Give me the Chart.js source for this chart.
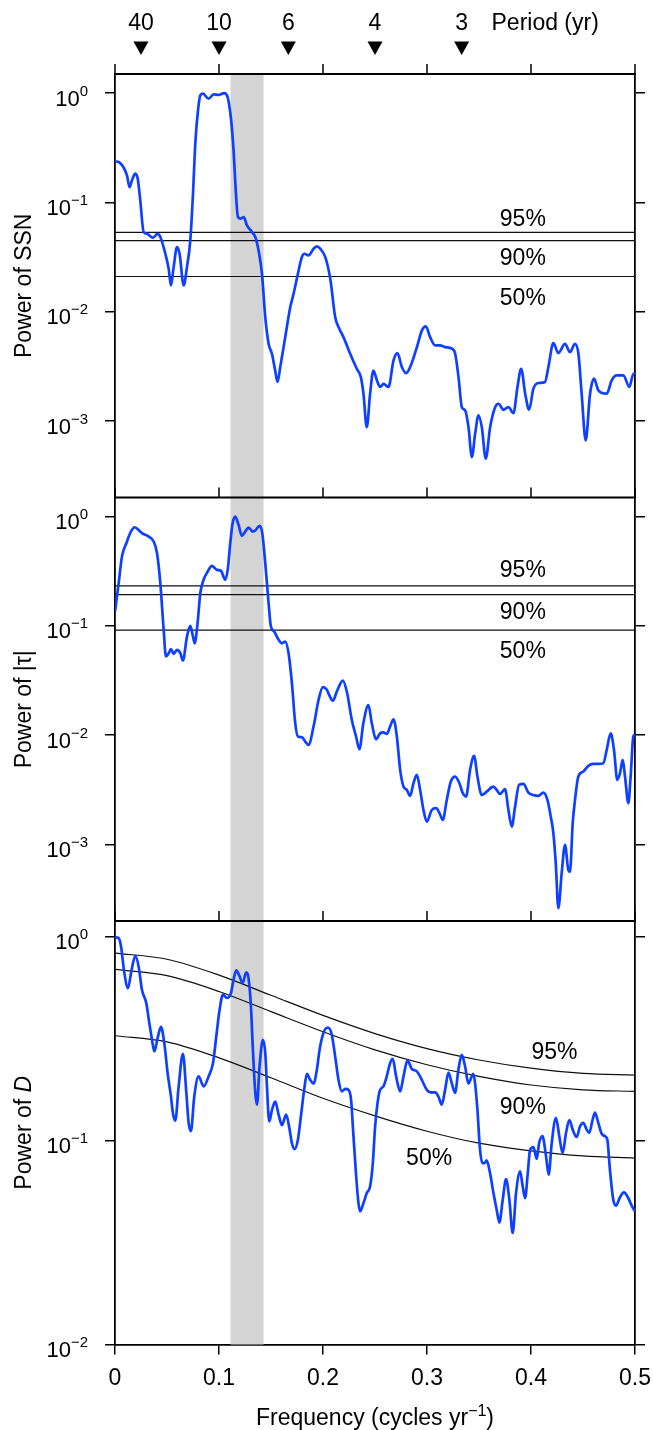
<!DOCTYPE html>
<html>
<head>
<meta charset="utf-8">
<title>Power spectra of SSN, |τ| and D</title>
<script src="https://cdn.jsdelivr.net/npm/chart.js@4.4.1/dist/chart.umd.min.js"></script>
<style>
  html, body { margin: 0; padding: 0; background: #fff; }
  #wrap { position: relative; width: 653px; height: 1430px; }
  canvas { display: block; }
</style>
</head>
<body>
<div id="wrap"><canvas id="spec" width="653" height="1430"></canvas></div>
<script>
// ---- data ---------------------------------------------------------------
// Sunspot number power spectrum
const ssnFreq = [0,0.0035,0.0077,0.0115,0.014,0.0163,0.0195,0.0218,0.0243,0.0275,0.0307,0.0365,0.041,0.0436,0.0484,0.0516,0.0538,0.0564,0.0596,0.0621,0.066,0.0692,0.0724,0.075,0.0772,0.0798,0.082,0.0846,0.09,0.0948,0.0996,0.105,0.1083,0.1115,0.114,0.1163,0.1182,0.121,0.1237,0.1269,0.1317,0.1349,0.138,0.1413,0.1445,0.1477,0.1509,0.154,0.1563,0.1589,0.1637,0.1685,0.1717,0.1759,0.1797,0.1823,0.1861,0.1909,0.1941,0.1973,0.2022,0.207,0.2117,0.2149,0.2197,0.2261,0.2325,0.2364,0.2389,0.2421,0.2453,0.2485,0.2518,0.255,0.2582,0.263,0.2678,0.2716,0.2758,0.28,0.2838,0.2903,0.2951,0.2989,0.303,0.3078,0.3126,0.3174,0.3239,0.3271,0.3303,0.3335,0.3367,0.3399,0.3431,0.3463,0.3495,0.3527,0.3565,0.3607,0.3655,0.3687,0.3735,0.3783,0.3831,0.387,0.3905,0.3944,0.3982,0.4023,0.4071,0.4135,0.4167,0.4215,0.4263,0.4327,0.4375,0.4423,0.4456,0.4487,0.4526,0.4568,0.4606,0.4648,0.4728,0.4776,0.4824,0.4888,0.4946,0.4985,0.5];
const ssnPower = [0.237,0.234,0.213,0.177,0.138,0.159,0.183,0.165,0.104,0.0536,0.0516,0.0475,0.0516,0.0482,0.0339,0.0247,0.0174,0.0256,0.039,0.0339,0.0174,0.0256,0.0449,0.12,0.344,0.693,0.953,0.986,0.887,0.973,0.959,1.0,0.918,0.582,0.299,0.12,0.0735,0.071,0.0735,0.0617,0.0536,0.0482,0.0364,0.0223,0.00893,0.00509,0.00413,0.0029,0.00228,0.00312,0.00586,0.011,0.0146,0.0223,0.0316,0.0339,0.0327,0.0377,0.0396,0.0377,0.0316,0.02,0.00893,0.00724,0.00586,0.00413,0.00301,0.00252,0.00178,0.00088,0.00178,0.0029,0.00236,0.00205,0.00219,0.00205,0.00359,0.00419,0.00312,0.00275,0.00312,0.00475,0.00675,0.00735,0.00586,0.00492,0.00492,0.00475,0.00459,0.00413,0.00252,0.00134,0.00125,0.00088,0.000469,0.000766,0.00113,0.00088,0.000453,0.00088,0.00134,0.00144,0.00127,0.00134,0.00118,0.00205,0.00301,0.00178,0.00127,0.00198,0.00223,0.00228,0.00312,0.00516,0.00419,0.00509,0.00428,0.00509,0.00413,0.00178,0.000665,0.00178,0.00244,0.00191,0.00178,0.00236,0.00262,0.00262,0.00205,0.00271,0.00271];

// |tau| power spectrum
const tauFreq = [0,0.0035,0.0067,0.0109,0.0154,0.0189,0.0218,0.0259,0.0324,0.0372,0.0404,0.0436,0.0468,0.049,0.0516,0.0538,0.0564,0.0596,0.0628,0.0653,0.0692,0.0724,0.075,0.0766,0.0794,0.082,0.0852,0.0891,0.0932,0.098,0.1019,0.106,0.1086,0.1108,0.1131,0.1156,0.1188,0.122,0.1252,0.1285,0.1323,0.1349,0.139,0.1416,0.1445,0.1477,0.1499,0.1531,0.1573,0.1605,0.1637,0.1669,0.1701,0.1733,0.1759,0.1797,0.1829,0.1861,0.1909,0.1957,0.1999,0.2037,0.2052,0.2095,0.2133,0.219,0.2229,0.2277,0.2318,0.235,0.2388,0.2437,0.2469,0.251,0.2549,0.258,0.2614,0.2645,0.2678,0.271,0.2742,0.2774,0.2806,0.2838,0.287,0.2902,0.2934,0.2966,0.2998,0.3046,0.3088,0.312,0.3152,0.319,0.3229,0.327,0.3312,0.3344,0.3376,0.3414,0.3453,0.3485,0.3526,0.3574,0.3638,0.367,0.3703,0.375,0.3783,0.3815,0.3847,0.3885,0.3927,0.3975,0.4023,0.4071,0.4119,0.4158,0.419,0.4215,0.4238,0.4263,0.4295,0.4327,0.4359,0.4375,0.4401,0.4423,0.4455,0.4503,0.4551,0.4599,0.4647,0.4696,0.4728,0.4766,0.4798,0.483,0.4856,0.4882,0.4904,0.4936,0.4958,0.4984,0.5];
const tauPower = [0.135,0.245,0.431,0.57,0.73,0.798,0.766,0.705,0.656,0.59,0.462,0.245,0.0918,0.0525,0.0562,0.0612,0.0555,0.0603,0.0562,0.0482,0.0798,0.1,0.0798,0.0693,0.106,0.199,0.264,0.314,0.354,0.325,0.318,0.264,0.337,0.57,0.869,1.0,0.839,0.665,0.729,0.792,0.729,0.745,0.822,0.705,0.374,0.161,0.0986,0.0887,0.0745,0.0693,0.0719,0.0562,0.0299,0.0129,0.00973,0.0096,0.00875,0.00817,0.012,0.021,0.0275,0.026,0.0242,0.0207,0.0251,0.0316,0.0251,0.0138,0.00973,0.00745,0.0129,0.0189,0.0129,0.00918,0.0104,0.0106,0.0103,0.012,0.014,0.00973,0.00482,0.00339,0.00316,0.00279,0.00364,0.00434,0.00316,0.00207,0.00162,0.00207,0.00215,0.00194,0.00168,0.00256,0.00377,0.00419,0.00364,0.00295,0.00275,0.00482,0.00647,0.00419,0.00284,0.00305,0.00339,0.00316,0.0029,0.00321,0.00207,0.00146,0.00223,0.00352,0.00359,0.00299,0.00284,0.00279,0.00299,0.00256,0.0018,0.00127,0.000675,0.000262,0.000547,0.000993,0.000586,0.000566,0.00157,0.00256,0.00419,0.00466,0.00525,0.00547,0.00547,0.00555,0.00734,0.0104,0.00734,0.00391,0.00449,0.00594,0.00419,0.00239,0.00419,0.00973,0.0101];

// D power spectrum
const dFreq = [0,0.0035,0.0058,0.009,0.0125,0.0157,0.0195,0.0227,0.0259,0.0301,0.033,0.0356,0.0378,0.041,0.0442,0.0474,0.0506,0.0538,0.0557,0.058,0.0612,0.0653,0.0686,0.0708,0.073,0.0762,0.0804,0.0852,0.09,0.0942,0.0974,0.1006,0.1038,0.1076,0.1115,0.114,0.1166,0.1198,0.1227,0.1262,0.1284,0.1307,0.1326,0.1349,0.1365,0.139,0.1422,0.1445,0.1461,0.1483,0.1509,0.1541,0.1573,0.1605,0.1646,0.1679,0.1701,0.1727,0.1759,0.1787,0.1819,0.1845,0.1877,0.1909,0.1941,0.1967,0.1999,0.2037,0.2052,0.2084,0.2117,0.2149,0.2181,0.2213,0.2245,0.227,0.2293,0.2319,0.2341,0.2357,0.2389,0.2421,0.2453,0.2479,0.2501,0.2524,0.2549,0.2581,0.2613,0.2645,0.2671,0.2703,0.2742,0.2774,0.2812,0.2854,0.2902,0.295,0.2998,0.3036,0.3078,0.311,0.3142,0.3174,0.3206,0.3238,0.327,0.3302,0.3334,0.3366,0.3398,0.343,0.3446,0.3462,0.3485,0.351,0.3533,0.3552,0.3574,0.3606,0.3639,0.367,0.3696,0.3728,0.376,0.3792,0.3824,0.3856,0.3895,0.392,0.3943,0.3969,0.3991,0.4023,0.4055,0.4078,0.411,0.4145,0.417,0.4199,0.424,0.4272,0.4304,0.4337,0.4369,0.4401,0.4439,0.4471,0.4503,0.4535,0.456,0.4592,0.4615,0.4647,0.4679,0.4711,0.4734,0.4759,0.4791,0.4817,0.4856,0.4894,0.4936,0.4968,0.5];
const dPower = [0.99,0.98,0.893,0.661,0.558,0.674,0.804,0.713,0.548,0.471,0.376,0.311,0.273,0.318,0.36,0.3,0.214,0.164,0.136,0.125,0.184,0.266,0.171,0.122,0.111,0.164,0.206,0.184,0.206,0.239,0.324,0.438,0.518,0.499,0.527,0.614,0.681,0.637,0.59,0.667,0.625,0.454,0.278,0.171,0.15,0.231,0.311,0.268,0.184,0.124,0.141,0.155,0.134,0.119,0.134,0.113,0.097,0.0907,0.101,0.131,0.177,0.212,0.198,0.19,0.222,0.278,0.33,0.356,0.356,0.33,0.258,0.198,0.174,0.179,0.177,0.158,0.105,0.0667,0.0493,0.0449,0.0493,0.0552,0.0596,0.0774,0.117,0.152,0.177,0.184,0.206,0.239,0.251,0.206,0.174,0.206,0.247,0.224,0.218,0.198,0.177,0.172,0.172,0.164,0.15,0.177,0.215,0.191,0.171,0.222,0.263,0.231,0.19,0.206,0.212,0.191,0.141,0.0899,0.0774,0.0774,0.0798,0.0692,0.0552,0.0457,0.0396,0.0512,0.0646,0.0512,0.0352,0.0552,0.0705,0.0596,0.0521,0.0692,0.0899,0.0927,0.0811,0.097,0.105,0.0835,0.0679,0.097,0.129,0.105,0.0867,0.109,0.126,0.113,0.104,0.117,0.122,0.113,0.109,0.126,0.137,0.122,0.108,0.105,0.101,0.0718,0.0512,0.0479,0.0527,0.0556,0.0521,0.0479,0.0449];

// Significance levels
const levelNames = ['95%', '90%', '50%'];
const ssnLevels = [0.0531, 0.0446, 0.0210];
const tauLevels = [0.232, 0.193, 0.0913];
const dLevelFreq = [0, 0.05, 0.1, 0.15, 0.2, 0.25, 0.3, 0.35, 0.4, 0.45, 0.5];
const dLevel95 = [0.829, 0.773, 0.646, 0.515, 0.410, 0.334, 0.282, 0.248, 0.226, 0.213, 0.209];
const dLevel90 = [0.689, 0.642, 0.537, 0.428, 0.341, 0.278, 0.235, 0.206, 0.187, 0.177, 0.174];
const dLevel50 = [0.326, 0.304, 0.254, 0.203, 0.161, 0.132, 0.111, 0.097, 0.089, 0.084, 0.082];

// Axes
const freqTicks = [0, 0.1, 0.2, 0.3, 0.4, 0.5];
const periodMarks = [40, 10, 6, 4, 3];
const powerDecadesUpper = [1, 0.1, 0.01, 0.001];
const powerDecadesLower = [1, 0.1, 0.01];
const bandPeriods = [9, 7];   // shaded period range (yr)

// ---- helpers ------------------------------------------------------------
const FONT = '"Liberation Sans", Arial, Helvetica, sans-serif';
const BLUE = 'rgb(16,64,255)';
const pts = (xs, ys) => xs.map((x, i) => ({ x, y: ys[i] }));
const flat = (v) => [{ x: 0, y: v }, { x: 0.5, y: v }];

const spectrumStyle = {
  borderColor: BLUE, borderWidth: 2.7, pointRadius: 0, fill: false,
  cubicInterpolationMode: 'monotone', order: 0
};
const levelStyle = {
  borderColor: '#111', borderWidth: 1.2, pointRadius: 0, fill: false,
  cubicInterpolationMode: 'monotone', order: 1
};

function decadeScale(min, max, decades, stack) {
  return {
    type: 'logarithmic',
    position: stack === 'L' ? 'left' : 'right',
    stack, stackWeight: 1,
    min, max,
    afterBuildTicks: (s) => { s.ticks = decades.map(v => ({ value: v, major: true })); },
    afterFit: (s) => { s.width = stack === 'L' ? 115 : 18; },
    ticks: { callback: () => '', padding: 0 },
    grid: { drawOnChartArea: false, drawTicks: true, tickLength: 10, color: '#000', lineWidth: 1.5 },
    border: { display: true, color: '#000', width: 1.8 }
  };
}

const UP_MIN = 2.0e-4, UP_MAX = 1.493;
const LO_MIN = 0.01, LO_MAX = 1.19;

// ---- annotations drawn around the panels --------------------------------
const panelDecor = {
  id: 'panelDecor',
  beforeDatasetsDraw(chart) {
    const { ctx, chartArea, scales } = chart;
    const x = scales.x;
    const a = x.getPixelForValue(1 / bandPeriods[0]);
    const b = x.getPixelForValue(1 / bandPeriods[1]);
    ctx.save();
    ctx.fillStyle = '#d4d4d4';
    ctx.fillRect(a, chartArea.top, b - a, chartArea.bottom - chartArea.top);
    ctx.restore();
  },
  afterDatasetsDraw(chart) {
    const { ctx, chartArea, scales } = chart;
    const x = scales.x;
    ctx.save();
    ctx.strokeStyle = '#000';
    ['y1', 'y2', 'y3'].forEach(id => {
      const top = scales[id].top;
      ctx.lineWidth = 1.8;
      ctx.beginPath();
      ctx.moveTo(chartArea.left - 0.9, top);
      ctx.lineTo(chartArea.right + 0.9, top);
      ctx.stroke();
      ctx.lineWidth = 1.5;
      freqTicks.forEach(f => {
        const px = Math.round(x.getPixelForValue(f));
        ctx.beginPath();
        ctx.moveTo(px, top);
        ctx.lineTo(px, top - 10);
        ctx.stroke();
      });
    });
    ctx.restore();
  },
  afterDraw(chart) {
    const { ctx, chartArea, scales } = chart;
    const x = scales.x;
    ctx.save();
    ctx.fillStyle = '#000';
    ctx.textBaseline = 'alphabetic';

    // decade labels 10^n on the left axes
    const powLabel = (yPix, v) => {
      const e = Math.round(Math.log10(v));
      const sup = e === 0 ? '0' : '\u2212' + Math.abs(e);
      ctx.font = '22px ' + FONT;
      const wb = ctx.measureText('10').width;
      ctx.font = '15px ' + FONT;
      const ws = ctx.measureText(sup).width;
      const right = 88;
      ctx.textAlign = 'left';
      ctx.font = '22px ' + FONT;
      ctx.fillText('10', right - ws - wb, yPix + 12.5);
      ctx.font = '15px ' + FONT;
      ctx.fillText(sup, right - ws, yPix + 2.5);
    };
    [['y1', powerDecadesUpper], ['y2', powerDecadesUpper], ['y3', powerDecadesLower]].forEach(([id, decs]) => {
      decs.forEach(v => powLabel(scales[id].getPixelForValue(v), v));
    });

    // y titles
    const titles = {
      y1: [['Power of SSN', false]],
      y2: [['Power of |\u03c4|', false]],
      y3: [['Power of ', false], ['D', true]]
    };
    Object.entries(titles).forEach(([id, parts]) => {
      const s = scales[id];
      const cy = (s.top + s.bottom) / 2;
      let total = 0;
      parts.forEach(([t, it]) => {
        ctx.font = (it ? 'italic ' : '') + '23px ' + FONT;
        total += ctx.measureText(t).width;
      });
      ctx.save();
      ctx.translate(30.5, cy);
      ctx.rotate(-Math.PI / 2);
      ctx.textAlign = 'left';
      let cx = -total / 2;
      parts.forEach(([t, it]) => {
        ctx.font = (it ? 'italic ' : '') + '23px ' + FONT;
        ctx.fillText(t, cx, 0);
        cx += ctx.measureText(t).width;
      });
      ctx.restore();
    });

    // period markers along the top
    ctx.font = '23px ' + FONT;
    ctx.textAlign = 'center';
    periodMarks.forEach(p => {
      const px = x.getPixelForValue(1 / p);
      ctx.fillText(String(p), px, 30);
      ctx.beginPath();
      ctx.moveTo(px - 7.5, 41.5);
      ctx.lineTo(px + 7.5, 41.5);
      ctx.lineTo(px, 55);
      ctx.closePath();
      ctx.fill();
    });
    ctx.textAlign = 'left';
    ctx.fillText('Period (yr)', 491.5, 30);

    // significance level labels
    const notes = [
      ['y1', [[0.370, 0.0607], [0.370, 0.0265], [0.370, 0.0116]]],
      ['y2', [[0.370, 0.279], [0.370, 0.116], [0.370, 0.0513]]],
      ['y3', [[0.4004, 0.2515], [0.370, 0.135], [0.2799, 0.076]]]
    ];
    ctx.font = '23px ' + FONT;
    ctx.textAlign = 'left';
    notes.forEach(([id, list]) => {
      list.forEach(([f, v], i) => {
        ctx.fillText(levelNames[i], x.getPixelForValue(f), scales[id].getPixelForValue(v));
      });
    });

    // x title with superscript
    const p1 = 'Frequency (cycles yr', p2 = '\u22121', p3 = ')';
    ctx.font = '23px ' + FONT;
    const w1 = ctx.measureText(p1).width, w3 = ctx.measureText(p3).width;
    ctx.font = '16px ' + FONT;
    const w2 = ctx.measureText(p2).width;
    let tx = (chartArea.left + chartArea.right) / 2 - (w1 + w2 + w3) / 2;
    const base = 1425;
    ctx.font = '23px ' + FONT;
    ctx.fillText(p1, tx, base); tx += w1;
    ctx.font = '16px ' + FONT;
    ctx.fillText(p2, tx, base - 9); tx += w2;
    ctx.font = '23px ' + FONT;
    ctx.fillText(p3, tx, base);
    ctx.restore();
  }
};

// ---- chart --------------------------------------------------------------
Chart.defaults.font.family = FONT;
Chart.defaults.color = '#000';

// left stack is laid out bottom-up, right stack top-down, in definition order
const scales = {
  x: {
    type: 'linear', position: 'bottom', min: 0, max: 0.5,
    afterBuildTicks: (s) => { s.ticks = freqTicks.map(v => ({ value: v })); },
    afterFit: (s) => { s.height = 85.5; s.paddingLeft = 0; s.paddingRight = 0; },
    ticks: { font: { size: 23 }, padding: 10, maxRotation: 0, autoSkip: false,
             callback: (v) => String(v) },
    grid: { drawOnChartArea: false, drawTicks: true, tickLength: 10, color: '#000', lineWidth: 1.5 },
    border: { display: true, color: '#000', width: 1.8 }
  },
  y3: decadeScale(LO_MIN, LO_MAX, powerDecadesLower, 'L'),
  y2: decadeScale(UP_MIN, UP_MAX, powerDecadesUpper, 'L'),
  y1: decadeScale(UP_MIN, UP_MAX, powerDecadesUpper, 'L'),
  y1r: decadeScale(UP_MIN, UP_MAX, powerDecadesUpper, 'R'),
  y2r: decadeScale(UP_MIN, UP_MAX, powerDecadesUpper, 'R'),
  y3r: decadeScale(LO_MIN, LO_MAX, powerDecadesLower, 'R')
};

new Chart(document.getElementById('spec'), {
  type: 'line',
  data: {
    datasets: [
      { label: 'SSN', data: pts(ssnFreq, ssnPower), yAxisID: 'y1', ...spectrumStyle },
      { label: '|τ|', data: pts(tauFreq, tauPower), yAxisID: 'y2', ...spectrumStyle },
      { label: 'D', data: pts(dFreq, dPower), yAxisID: 'y3', ...spectrumStyle },
      ...ssnLevels.map((v, i) => ({ label: 'SSN ' + levelNames[i], data: flat(v), yAxisID: 'y1', ...levelStyle })),
      ...tauLevels.map((v, i) => ({ label: '|τ| ' + levelNames[i], data: flat(v), yAxisID: 'y2', ...levelStyle })),
      ...[dLevel95, dLevel90, dLevel50].map((arr, i) => ({ label: 'D ' + levelNames[i], data: pts(dLevelFreq, arr), yAxisID: 'y3', ...levelStyle }))
    ]
  },
  options: {
    responsive: false,
    animation: false,
    events: [],
    layout: { padding: { top: 74, right: 0, bottom: 0, left: 0 } },
    plugins: { legend: { display: false }, tooltip: { enabled: false }, title: { display: false } },
    scales
  },
  plugins: [panelDecor]
});
</script>
</body>
</html>
